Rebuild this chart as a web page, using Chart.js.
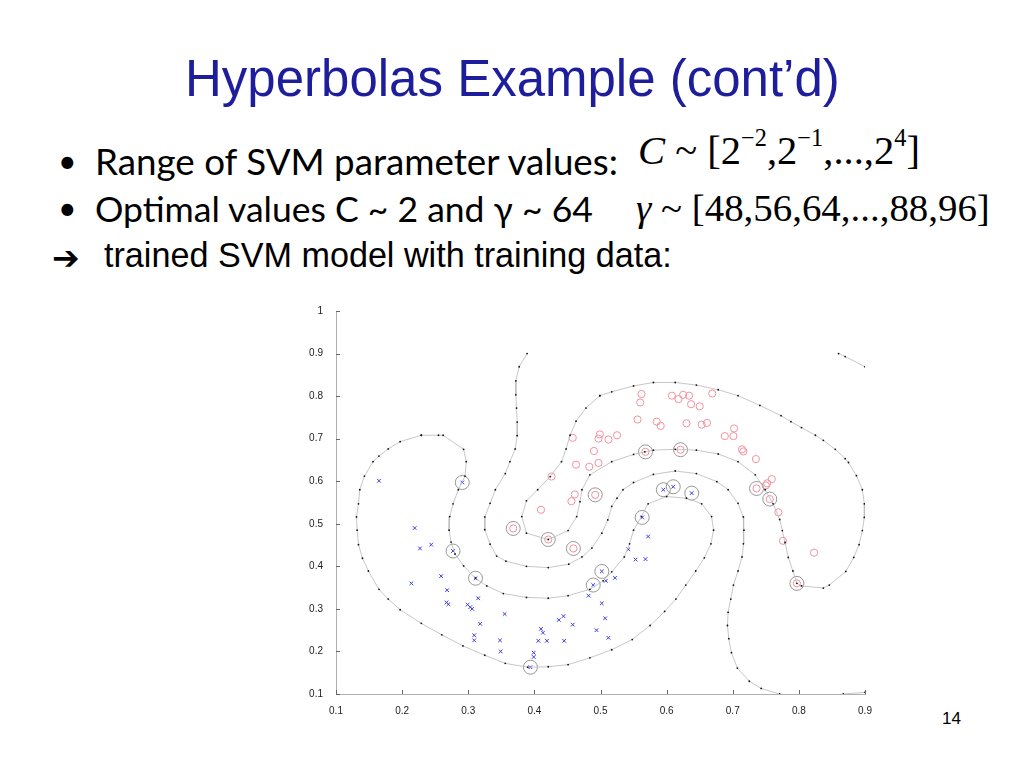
<!DOCTYPE html>
<html>
<head>
<meta charset="utf-8">
<script src="https://cdn.jsdelivr.net/npm/chart.js@4.4.1/dist/chart.umd.min.js"></script>
<style>
  body { margin: 0; width: 1024px; height: 768px; background: #fff; position: relative; overflow: hidden; }
  .t { position: absolute; white-space: nowrap; line-height: 1; }
  #title { font-family: "Liberation Sans", Arial, sans-serif; color: #1e1e9c; font-size: 51px; }
  .bul { font-family: Lato, "Open Sans", sans-serif; font-size: 30px; color: #000; }
  .arr { font-family: "Liberation Sans", Arial, sans-serif; font-size: 27px; color: #000; }
  .math { font-family: "Liberation Serif", "Times New Roman", serif; font-size: 34px; color: #000; }
  .math sup { font-size: 0.6em; vertical-align: 0; position: relative; top: -0.75em; }
  #page { font-family: "Liberation Sans", Arial, sans-serif; font-size: 17px; }
  #chart { position: absolute; left: 290px; top: 300px; }
</style>
</head>
<body>
<div class="t" id="title" data-x="185" data-w="655" data-b="97">Hyperbolas Example (cont’d)</div>

<div class="t bul" style="left:58px;top:145px;font-size:32px;">•</div>
<div class="t bul" id="b1" data-x="95" data-w="523" data-b="175">Range of SVM parameter values:</div>
<div class="t bul" style="left:58px;top:192px;font-size:32px;">•</div>
<div class="t bul" id="b2" data-x="95" data-w="498" data-b="222">Optimal values C ~ 2 and γ ~ 64</div>
<div class="t arr" style="left:52px;top:241px;font-family:'DejaVu Sans';font-size:33px;font-weight:bold;">➔</div>
<div class="t arr" id="b3" data-x="104" data-w="568" data-b="267">trained SVM model with training data:</div>

<div class="t math" id="m1" data-x="638" data-w="282" data-b="166"><i>C</i> ~ [2<sup>−2</sup>,2<sup>−1</sup>,...,2<sup>4</sup>]</div>
<div class="t math" id="m2" data-x="636" data-w="354" data-b="222"><i>γ</i> ~ [48,56,64,...,88,96]</div>

<div class="t" id="page" data-x="942" data-w="19" data-b="725">14</div>

<canvas id="chart" width="585" height="414"></canvas>

<script>
// axis ticks
const xTickValues = [0.1, 0.2, 0.3, 0.4, 0.5, 0.6, 0.7, 0.8, 0.9];
const yTickValues = [0.1, 0.2, 0.3, 0.4, 0.5, 0.6, 0.7, 0.8, 0.9, 1];

// class +1 (red circles)
const redPoints = [
  [0.562,0.805],[0.560,0.785],[0.608,0.801],[0.618,0.793],[0.625,0.803],[0.634,0.801],
  [0.637,0.781],[0.650,0.776],[0.669,0.806],[0.556,0.745],[0.585,0.740],[0.591,0.730],
  [0.630,0.736],[0.653,0.733],[0.661,0.737],[0.702,0.724],[0.688,0.706],[0.701,0.706],
  [0.714,0.675],[0.716,0.670],[0.735,0.652],[0.759,0.605],[0.752,0.595],[0.750,0.590],
  [0.769,0.527],[0.776,0.460],[0.823,0.432],
  [0.499,0.710],[0.497,0.700],[0.512,0.698],[0.525,0.708],[0.458,0.702],[0.490,0.671],
  [0.463,0.639],[0.483,0.634],[0.497,0.643],[0.426,0.611],[0.461,0.569],[0.456,0.553],
  [0.410,0.533]
];
const redSupport = [
  [0.492,0.568],[0.368,0.489],[0.421,0.463],[0.459,0.442],[0.568,0.669],
  [0.621,0.674],[0.736,0.583],[0.756,0.558],[0.797,0.360]
];

// class -1 (blue crosses)
const bluePoints = [
  [0.165,0.601],[0.219,0.490],[0.227,0.442],[0.244,0.451],[0.214,0.360],[0.259,0.377],
  [0.268,0.344],[0.315,0.325],[0.267,0.315],[0.270,0.311],[0.299,0.310],[0.303,0.304],
  [0.306,0.300],[0.355,0.288],[0.318,0.265],[0.309,0.238],[0.309,0.226],[0.348,0.226],
  [0.349,0.200],[0.399,0.197],[0.399,0.187],[0.410,0.253],[0.413,0.244],[0.406,0.225],
  [0.419,0.225],[0.437,0.274],[0.444,0.283],[0.458,0.263],[0.445,0.225],[0.482,0.331],
  [0.508,0.366],[0.522,0.373],[0.502,0.313],[0.507,0.278],[0.494,0.250],[0.512,0.232],
  [0.572,0.470],[0.542,0.440],[0.553,0.416],[0.568,0.417]
];
const blueSupport = [
  [0.291,0.597],[0.277,0.436],[0.311,0.372],[0.394,0.163],[0.489,0.356],
  [0.502,0.388],[0.563,0.515],[0.595,0.580],[0.610,0.587],[0.638,0.572]
];

// contour lines of the decision function
const boundaryMid = [
  [0.389,0.900],[0.377,0.869],[0.372,0.836],[0.372,0.803],[0.373,0.772],[0.374,0.739],
  [0.374,0.707],[0.371,0.676],[0.363,0.646],[0.356,0.618],[0.341,0.580],[0.333,0.548],
  [0.325,0.516],[0.325,0.486],[0.333,0.452],[0.343,0.424],[0.357,0.412],[0.388,0.400],
  [0.421,0.397],[0.452,0.405],[0.472,0.422],[0.487,0.443],[0.502,0.478],[0.511,0.509],
  [0.517,0.541],[0.525,0.560],[0.534,0.580],[0.550,0.597],[0.580,0.616],[0.613,0.624],
  [0.645,0.618],[0.676,0.599],[0.693,0.580],[0.708,0.548],[0.716,0.516],[0.717,0.485],
  [0.716,0.453],[0.714,0.422],[0.708,0.389],[0.701,0.356],[0.697,0.323],[0.693,0.292],
  [0.692,0.261],[0.694,0.230],[0.698,0.197],[0.707,0.161],[0.725,0.130],[0.743,0.113],
  [0.771,0.100]
];
const boundaryBlue = [
  [0.229,0.708],[0.255,0.708],[0.262,0.708],[0.293,0.675],[0.297,0.646],[0.295,0.612],
  [0.285,0.580],[0.277,0.547],[0.272,0.517],[0.271,0.485],[0.274,0.457],[0.280,0.429],
  [0.293,0.401],[0.311,0.372],[0.328,0.354],[0.353,0.336],[0.388,0.327],[0.421,0.325],
  [0.451,0.331],[0.484,0.346],[0.504,0.366],[0.517,0.387],[0.536,0.422],[0.544,0.453],
  [0.550,0.485],[0.562,0.517],[0.572,0.547],[0.600,0.564],[0.630,0.560],[0.653,0.547],
  [0.668,0.517],[0.671,0.485],[0.667,0.453],[0.657,0.420],[0.644,0.389],[0.629,0.356],
  [0.614,0.323],[0.597,0.294],[0.575,0.261],[0.548,0.228],[0.517,0.204],[0.484,0.185],
  [0.451,0.169],[0.421,0.164],[0.390,0.163],[0.356,0.172],[0.325,0.191],[0.292,0.213],
  [0.260,0.239],[0.229,0.266],[0.197,0.298],[0.179,0.323],[0.165,0.346],[0.149,0.389],
  [0.140,0.419],[0.134,0.451],[0.132,0.485],[0.131,0.516],[0.134,0.547],[0.136,0.580],
  [0.143,0.612],[0.156,0.646],[0.165,0.659],[0.179,0.676],[0.197,0.693],[0.229,0.708]
];
const boundaryRed = [
  [0.499,0.801],[0.517,0.810],[0.550,0.824],[0.580,0.832],[0.613,0.832],[0.645,0.826],
  [0.678,0.815],[0.708,0.801],[0.741,0.778],[0.773,0.754],[0.788,0.740],[0.804,0.726],
  [0.825,0.708],[0.837,0.696],[0.855,0.675],[0.870,0.653],[0.875,0.644],[0.887,0.613],
  [0.896,0.580],[0.899,0.547],[0.899,0.515],[0.896,0.484],[0.891,0.451],[0.883,0.421],
  [0.871,0.388],[0.846,0.356],[0.837,0.349],[0.804,0.354],[0.797,0.360],[0.791,0.389],
  [0.784,0.421],[0.779,0.456],[0.775,0.484],[0.771,0.510],[0.761,0.547],[0.749,0.580],
  [0.734,0.615],[0.708,0.646],[0.678,0.664],[0.645,0.673],[0.613,0.675],[0.580,0.673],
  [0.567,0.669],[0.550,0.663],[0.517,0.646],[0.484,0.615],[0.472,0.580],[0.469,0.552],
  [0.464,0.517],[0.451,0.484],[0.421,0.463],[0.388,0.478],[0.381,0.517],[0.388,0.554],
  [0.405,0.580],[0.424,0.611],[0.441,0.646],[0.448,0.676],[0.454,0.708],[0.463,0.741],
  [0.478,0.772],[0.499,0.801]
];
const cornerTop = [[0.860,0.900],[0.870,0.893],[0.900,0.869]];
const cornerBottom = [[0.867,0.100],[0.900,0.104]];

const pts = arr => arr.map(p => ({ x: p[0], y: p[1] }));

const contourStyle = {
  showLine: true,
  borderColor: '#b9b9b9',
  borderWidth: 0.8,
  pointRadius: 0.9,
  pointBorderWidth: 0,
  pointBackgroundColor: '#111',
  tension: 0
};

// inward tick marks like the original figure
const inwardTicks = {
  id: 'inwardTicks',
  afterDraw(chart) {
    const { ctx, chartArea: a, scales: { x, y } } = chart;
    ctx.save();
    ctx.strokeStyle = '#666';
    ctx.lineWidth = 1;
    ctx.beginPath();
    xTickValues.forEach(v => {
      const px = Math.round(x.getPixelForValue(v)) + 0.5;
      ctx.moveTo(px, a.bottom);
      ctx.lineTo(px, a.bottom - 4);
    });
    yTickValues.forEach(v => {
      const py = Math.round(y.getPixelForValue(v)) + 0.5;
      ctx.moveTo(a.left, py);
      ctx.lineTo(a.left + 4, py);
    });
    ctx.stroke();
    ctx.restore();
  }
};

const tickFont = { family: '"Liberation Sans", Arial, sans-serif', size: 10 };
const fmt = v => String(Number(v.toFixed(1)));

new Chart(document.getElementById('chart'), {
  type: 'scatter',
  data: {
    datasets: [
      Object.assign({ data: pts(boundaryMid) }, contourStyle),
      Object.assign({ data: pts(boundaryBlue) }, contourStyle),
      Object.assign({ data: pts(boundaryRed) }, contourStyle),
      Object.assign({ data: pts(cornerTop) }, contourStyle),
      Object.assign({ data: pts(cornerBottom) }, contourStyle),
      { data: pts(redSupport), pointStyle: 'circle', pointRadius: 7, borderColor: '#8c8c8c', borderWidth: 0.9, backgroundColor: 'rgba(0,0,0,0)' },
      { data: pts(blueSupport), pointStyle: 'circle', pointRadius: 7, borderColor: '#8c8c8c', borderWidth: 0.9, backgroundColor: 'rgba(0,0,0,0)' },
      { data: pts(redPoints.concat(redSupport)), pointStyle: 'circle', pointRadius: 3.6, borderColor: '#f2919e', borderWidth: 1, backgroundColor: 'rgba(0,0,0,0)' },
      { data: pts(bluePoints.concat(blueSupport)), pointStyle: 'crossRot', pointRadius: 2.6, borderColor: '#3a3aee', borderWidth: 1 }
    ]
  },
  options: {
    responsive: false,
    animation: false,
    layout: { padding: { top: 8, right: 10, left: 0, bottom: 0 } },
    plugins: { legend: { display: false }, tooltip: { enabled: false } },
    scales: {
      x: {
        type: 'linear', min: 0.1, max: 0.9,
        afterBuildTicks: s => { s.ticks = xTickValues.map(v => ({ value: v })); },
        afterFit: s => { s.height = 20; },
        grid: { display: false },
        border: { display: true, color: '#b0b0b0', width: 1 },
        ticks: { font: tickFont, color: '#222', padding: 3, maxRotation: 0, callback: fmt }
      },
      y: {
        type: 'linear', min: 0.1, max: 1,
        afterBuildTicks: s => { s.ticks = yTickValues.map(v => ({ value: v })); },
        afterFit: s => { s.width = 46; },
        grid: { display: false },
        border: { display: true, color: '#b0b0b0', width: 1 },
        ticks: { font: tickFont, color: '#222', padding: 5, callback: fmt }
      }
    }
  },
  plugins: [inwardTicks]
});

// fit slide texts to the widths and baselines seen in the original
document.querySelectorAll('[data-w]').forEach(el => {
  const w = +el.dataset.w;
  const fs = parseFloat(getComputedStyle(el).fontSize);
  const cur = el.getBoundingClientRect().width;
  const nfs = fs * w / cur;
  el.style.fontSize = nfs + 'px';
  el.style.left = el.dataset.x + 'px';
  el.style.top = (+el.dataset.b - 0.86 * nfs) + 'px';
});
</script>
</body>
</html>
